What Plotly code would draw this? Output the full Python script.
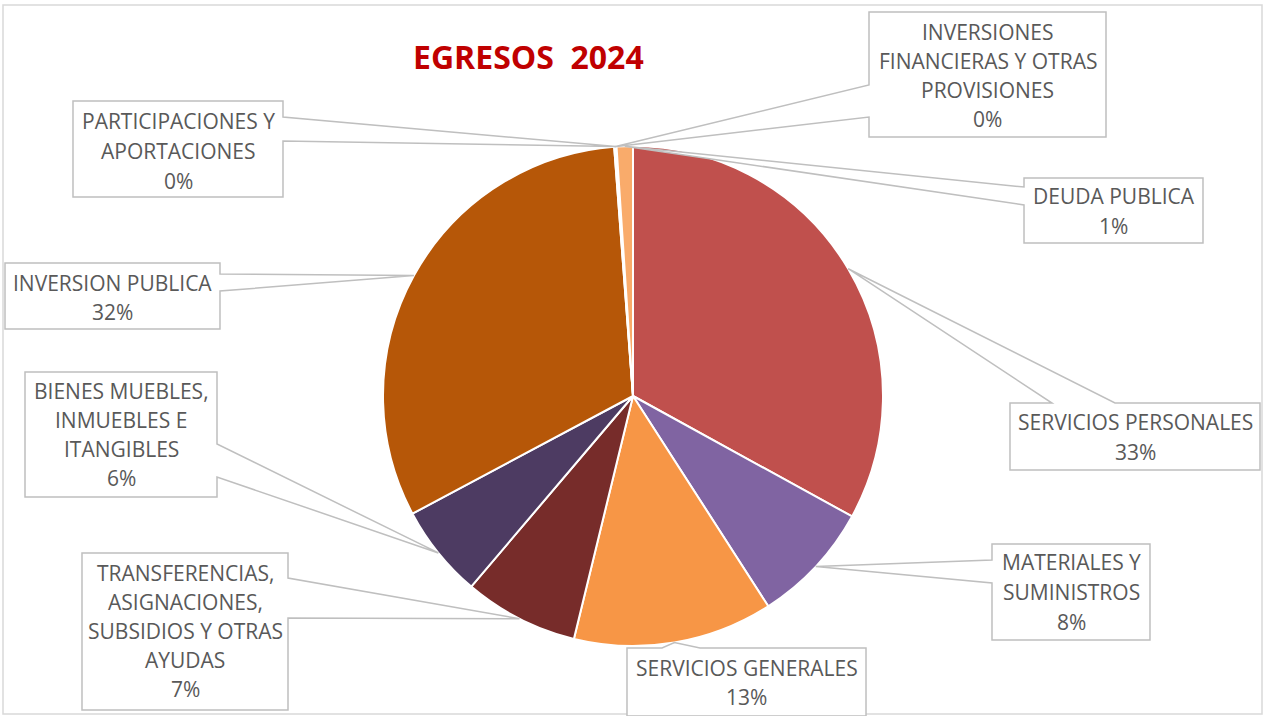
import math
import plotly.graph_objects as go

# ---------------- data ----------------
categories = [
    "SERVICIOS PERSONALES",
    "MATERIALES Y\nSUMINISTROS",
    "SERVICIOS GENERALES",
    "TRANSFERENCIAS,\nASIGNACIONES,\nSUBSIDIOS Y OTRAS\nAYUDAS",
    "BIENES MUEBLES,\nINMUEBLES E\nITANGIBLES",
    "INVERSION PUBLICA",
    "INVERSIONES\nFINANCIERAS Y OTRAS\nPROVISIONES",
    "PARTICIPACIONES Y\nAPORTACIONES",
    "DEUDA PUBLICA",
]
values = [33.0, 7.9, 12.9, 7.4, 6.0, 31.6, 0.05, 0.1, 1.05]
colors = ["#C0504D", "#8064A2", "#F79646", "#772C2A", "#4D3B62",
          "#B65708", "#D99694", "#B3A2C7", "#F9AB6B"]
title_text = "EGRESOS\u00a0 2024"

# ---------------- layout constants (pixels) ----------------
W, H = 1264, 716
CX, CY, R = 633, 396, 250

# callout boxes: (x0, y0, x1, y1, side, base_a, base_b, first_line_y, line_step)
boxes = [
    (1010, 403, 1260, 470, "top", 1052, 1115, 422, 30),
    (992, 544, 1150, 640, "left", 560, 583, 562, 30),
    (627, 648, 866, 716, "top", 662, 700, 668, 29),
    (82, 553, 288, 710, "right", 578, 618, 573, 29),
    (25, 372, 217, 497, "right", 444, 477, 391, 29),
    (5, 263, 220, 329, "right", 274, 291, 283, 29),
    (869, 12, 1106, 137, "left", 85, 117, 32, 29),
    (73, 101, 283, 197, "right", 117, 141, 121, 30),
    (1024, 178, 1203, 243, "left", 187, 205, 196, 30),
]

LABEL_FONT = dict(family="Open Sans", size=21, color="#595959")
BOX_LINE = "#BFBFBF"


def px(x):
    return x / W


def py(y):
    return 1 - y / H


fig = go.Figure(go.Pie(
    labels=[c.replace("\n", " ") for c in categories],
    values=values,
    sort=False,
    direction="clockwise",
    rotation=0,
    marker=dict(colors=colors, line=dict(color="white", width=2)),
    textinfo="none",
    hoverinfo="label+percent",
    showlegend=False,
    domain=dict(x=[(CX - R) / W, (CX + R) / W], y=[(H - CY - R) / H, (H - CY + R) / H]),
))

total = sum(values)
shapes = []
annotations = []

# outer chart border
shapes.append(dict(type="rect", xref="paper", yref="paper",
                   x0=px(3), x1=px(1262), y0=py(714), y1=py(5),
                   line=dict(color="#D9D9D9", width=1.5), fillcolor="rgba(0,0,0,0)"))

cum = 0.0
for cat, v, box in zip(categories, values, boxes):
    mid = (cum + v / 2) / total * 2 * math.pi
    cum += v
    tx = CX + R * math.sin(mid)
    ty = CY - R * math.cos(mid)
    x0, y0, x1, y1, side, a, b, ly, step = box
    pts = [(x0, y0)]
    if side == "top":
        pts += [(a, y0), (tx, ty), (b, y0)]
    pts += [(x1, y0)]
    if side == "right":
        pts += [(x1, a), (tx, ty), (x1, b)]
    pts += [(x1, y1), (x0, y1)]
    if side == "left":
        pts += [(x0, b), (tx, ty), (x0, a)]
    path = "M " + " L ".join(f"{px(x):.5f},{py(y):.5f}" for x, y in pts) + " Z"
    shapes.append(dict(type="path", xref="paper", yref="paper", path=path,
                       line=dict(color=BOX_LINE, width=1.5), fillcolor="white",
                       layer="above"))
    pct = f"{round(v / total * 100)}%"
    lines = cat.split("\n") + [pct]
    xc = (x0 + x1) / 2
    for i, t in enumerate(lines):
        annotations.append(dict(text=t, x=px(xc), y=py(ly + i * step),
                                xref="paper", yref="paper", showarrow=False,
                                xanchor="center", yanchor="middle",
                                font=LABEL_FONT))

annotations.append(dict(text=f"<b>{title_text}</b>", x=px(528), y=py(56),
                        xref="paper", yref="paper", showarrow=False,
                        xanchor="center", yanchor="middle",
                        font=dict(family="Open Sans", size=32, color="#C00000")))

fig.update_layout(
    width=W, height=H,
    margin=dict(l=0, r=0, t=0, b=0),
    paper_bgcolor="white", plot_bgcolor="white",
    shapes=shapes, annotations=annotations,
)

fig.write_html(
    "out.html",
    config={"displayModeBar": False},
    post_script="document.body.style.margin='0';document.body.style.overflow='hidden';",
)
